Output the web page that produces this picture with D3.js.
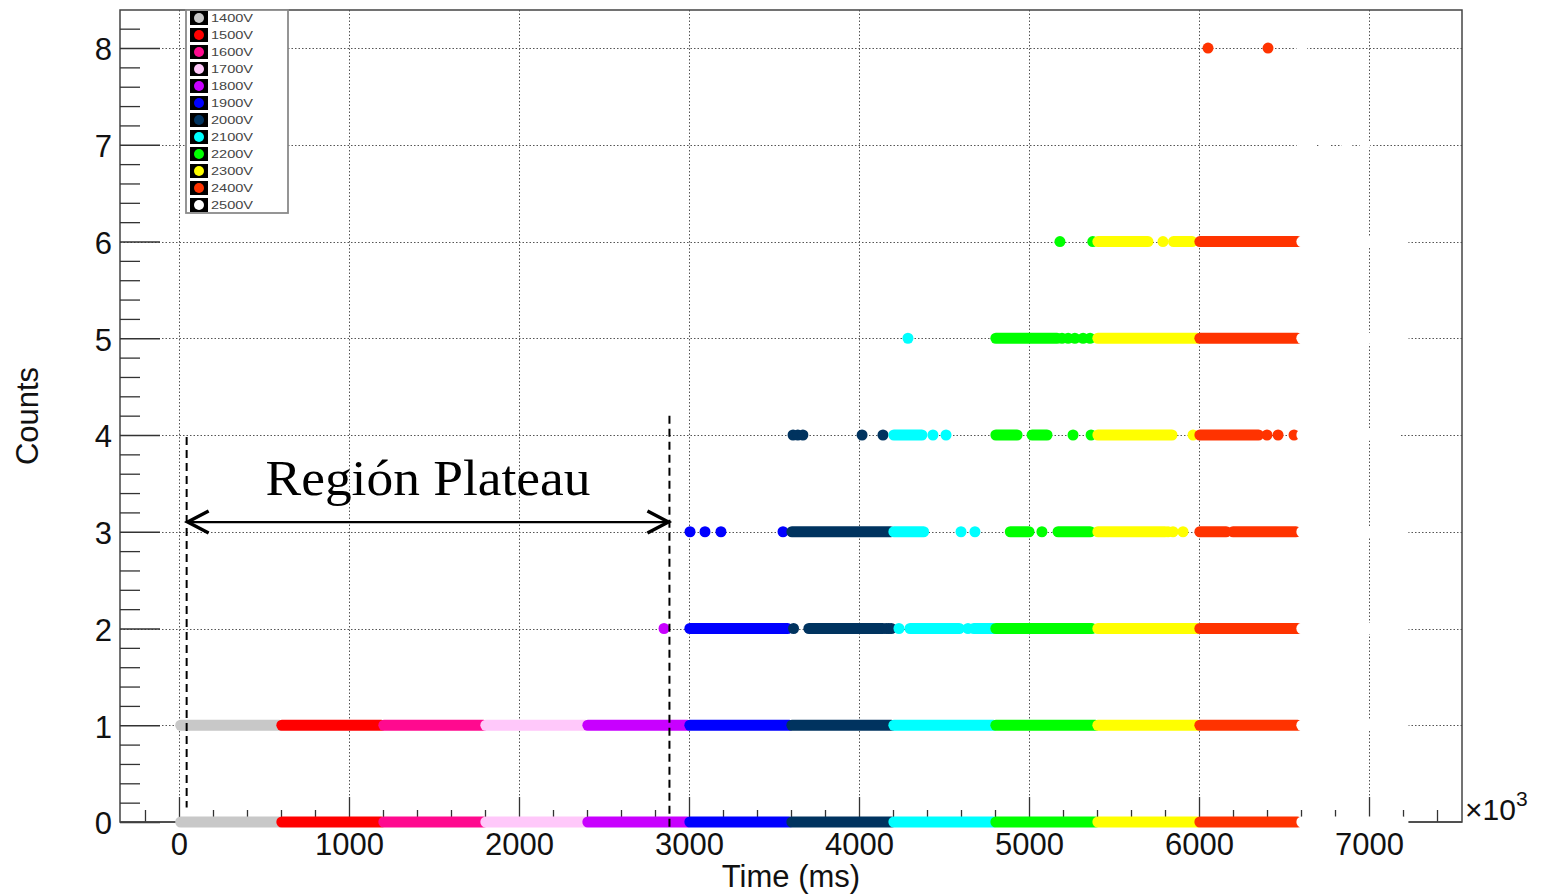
<!DOCTYPE html>
<html><head><meta charset="utf-8">
<script src="https://cdn.jsdelivr.net/npm/d3@7"></script>
<style>html,body{margin:0;padding:0;background:#fff;} svg{display:block;}</style>
</head><body>
<svg id="chart" width="1542" height="896"></svg>
<script>
// ---------------- data ----------------
const voltages = ['1400V','1500V','1600V','1700V','1800V','1900V','2000V','2100V','2200V','2300V','2400V','2500V'];
const seriesColors = ['#c8c8c8','#ff0000','#ff0a8f','#ffc8fa','#c800ff','#0000ff','#00335f','#00ffff','#00ff00','#ffff00','#ff3300','#ffffff'];
const xTickLabels = [0,1000,2000,3000,4000,5000,6000,7000];
const yTickLabels = [0,1,2,3,4,5,6,7,8];
// dense runs of overlapping markers: [seriesIndex, counts, tStart, tEnd]  (time in ms x10^3)
const denseRuns = [
  [0,0,10,590],[1,0,605,1190],[2,0,1205,1790],[3,0,1805,2390],[4,0,2405,2990],[5,0,3005,3590],
  [6,0,3605,4190],[7,0,4205,4790],[8,0,4805,5390],[9,0,5405,5990],[10,0,6005,6580],[11,0,6605,7200],
  [0,1,10,590],[1,1,605,1190],[2,1,1205,1790],[3,1,1805,2390],[4,1,2405,2990],[5,1,3005,3590],
  [6,1,3605,4190],[7,1,4205,4790],[8,1,4805,5390],[9,1,5405,5990],[10,1,6005,6580],[11,1,6605,7200],
  [5,2,3005,3580],[6,2,3705,4140],[7,2,4300,4590],[7,2,4675,4790],[8,2,4805,5370],[9,2,5405,5990],[10,2,6005,6580],[11,2,6605,7200],
  [6,3,3605,4185],[7,3,4205,4380],[8,3,4890,5000],[8,3,5171,5360],[9,3,5405,5800],[10,3,6005,6160],[10,3,6200,6570],[11,3,6605,7200],
  [7,4,4205,4370],[8,4,4805,4930],[8,4,5018,5106],[9,4,5405,5841],[10,4,6005,6350],[11,4,6605,7150],
  [8,5,4805,5165],[9,5,5405,5990],[10,5,6005,6580],[11,5,6605,7200],
  [9,6,5405,5700],[9,6,5850,5960],[10,6,6005,6580],[11,6,6605,7200]
];
// isolated markers: [seriesIndex, counts, t]
const singlePoints = [
  [4,2,2853],[6,2,3615],[6,2,4160],[6,2,4175],[6,2,4190],[7,2,4235],[7,2,4641],
  [5,3,3006],[5,3,3094],[5,3,3188],[5,3,3553],[7,3,4600],[7,3,4682],[8,3,5076],[9,3,5818],[9,3,5847],[9,3,5906],
  [6,4,3612],[6,4,3640],[6,4,3670],[6,4,4018],[6,4,4141],[7,4,4435],[7,4,4512],[8,4,5259],[8,4,5365],[9,4,5965],
  [10,4,6400],[10,4,6465],[10,4,6559],
  [7,5,4288],[8,5,5194],[8,5,5230],[8,5,5270],[8,5,5318],[8,5,5359],
  [8,6,5182],[8,6,5375],[9,6,5788],
  [11,7,6606],[11,7,6653],[11,7,6735],[11,7,6870],[11,7,6976],
  [10,8,6053],[10,8,6406],[11,8,6605]
];
const plateauBounds = [45, 2885];
const plateauLabel = 'Región Plateau';

// ---------------- chart ----------------
const svg = d3.select('#chart');
const x = d3.scaleLinear().domain([-347, 7547]).range([120, 1462]);
const y = d3.scaleLinear().domain([0, 8.393]).range([822, 10]);
const sans = 'Liberation Sans, Arial, Helvetica, sans-serif';

// grid
const grid = svg.append('g').attr('stroke', '#555').attr('stroke-width', 1).attr('stroke-dasharray', '1.5,2');
grid.selectAll('line.v').data(xTickLabels).join('line')
  .attr('x1', d => Math.round(x(d)) + 0.5).attr('x2', d => Math.round(x(d)) + 0.5)
  .attr('y1', y.range()[1]).attr('y2', y.range()[0]);
grid.selectAll('line.h').data(yTickLabels.filter(d => d > 0)).join('line')
  .attr('y1', d => Math.round(y(d)) + 0.5).attr('y2', d => Math.round(y(d)) + 0.5)
  .attr('x1', x.range()[0]).attr('x2', x.range()[1]);

// frame
svg.append('rect').attr('x', 120).attr('y', 10).attr('width', 1342).attr('height', 812)
  .attr('fill', 'none').attr('stroke', '#444').attr('stroke-width', 1.5);

// axes
const xMinor = d3.range(-200, 7547, 200).filter(d => d % 1000 !== 0);
const yMinor = d3.range(0.2, 8.3, 0.2).filter(d => Math.abs(d - Math.round(d)) > 1e-6);
function styleAxis(g){
  g.select('.domain').remove();
  g.selectAll('.tick line').attr('stroke', '#333').attr('stroke-width', 1.3);
  g.selectAll('text').attr('font-family', sans).attr('fill', '#111');
}
svg.append('g').attr('transform', 'translate(0,822)')
  .call(d3.axisBottom(x).tickValues(xMinor).tickSize(-12).tickFormat('')).call(styleAxis);
svg.append('g').attr('transform', 'translate(0,822)')
  .call(d3.axisBottom(x).tickValues(xTickLabels).tickSize(-25).tickPadding(11).tickFormat(d3.format('d')))
  .call(styleAxis).selectAll('text').attr('font-size', 31);
svg.append('g').attr('transform', 'translate(120,0)')
  .call(d3.axisLeft(y).tickValues(yMinor).tickSize(-20).tickFormat('')).call(styleAxis);
svg.append('g').attr('transform', 'translate(120,0)')
  .call(d3.axisLeft(y).tickValues(yTickLabels).tickSize(-40).tickPadding(8).tickFormat(d3.format('d')))
  .call(styleAxis).selectAll('text').attr('font-size', 31).attr('dy', '0.38em');
svg.append('line').attr('x1', 120).attr('x2', 1462).attr('y1', 822).attr('y2', 822)
  .attr('stroke', '#444').attr('stroke-width', 1.5);

// axis titles
svg.append('text').attr('x', 791).attr('y', 887).attr('text-anchor', 'middle')
  .attr('font-family', sans).attr('font-size', 31).attr('fill', '#111').text('Time (ms)');
svg.append('text').attr('transform', 'translate(38,416) rotate(-90)').attr('text-anchor', 'middle')
  .attr('font-family', sans).attr('font-size', 31).attr('fill', '#111').text('Counts');
const exp = svg.append('text').attr('x', 1465).attr('y', 820)
  .attr('font-family', sans).attr('font-size', 30).attr('fill', '#111');
exp.append('tspan').text('\u00d710');
exp.append('tspan').attr('font-size', 21).attr('dy', -14).text('3');

// markers, drawn series by series
const R = 5.5;
const marks = svg.append('g');
voltages.forEach((v, i) => {
  const g = marks.append('g');
  g.selectAll('line').data(denseRuns.filter(r => r[0] === i)).join('line')
    .attr('x1', d => x(d[2])).attr('x2', d => x(d[3]))
    .attr('y1', d => y(d[1])).attr('y2', d => y(d[1]))
    .attr('stroke', seriesColors[i]).attr('stroke-width', 2 * R).attr('stroke-linecap', 'round');
  g.selectAll('circle').data(singlePoints.filter(p => p[0] === i)).join('circle')
    .attr('cx', d => x(d[2])).attr('cy', d => y(d[1])).attr('r', R)
    .attr('fill', seriesColors[i]);
});

// legend
const lg = svg.append('g');
lg.append('rect').attr('x', 186).attr('y', 10).attr('width', 102).attr('height', 203)
  .attr('fill', '#fff').attr('stroke', '#8a8a8a').attr('stroke-width', 1.8);
voltages.forEach((v, i) => {
  const yc = 18 + 17 * i;
  lg.append('rect').attr('x', 190).attr('y', yc - 7).attr('width', 18).attr('height', 14).attr('fill', '#000');
  lg.append('circle').attr('cx', 199).attr('cy', yc).attr('r', 5).attr('fill', seriesColors[i]);
  lg.append('text').attr('x', 211).attr('y', yc + 4).attr('font-family', sans).attr('font-size', 11.5)
    .attr('fill', '#444').attr('textLength', 42).attr('lengthAdjust', 'spacingAndGlyphs').text(v);
});

// plateau annotation
const ann = svg.append('g').attr('stroke', '#000').attr('fill', 'none');
ann.append('line').attr('x1', x(plateauBounds[0])).attr('x2', x(plateauBounds[0]))
  .attr('y1', y(3.98)).attr('y2', y(0.15)).attr('stroke-width', 2).attr('stroke-dasharray', '8,5');
ann.append('line').attr('x1', x(plateauBounds[1])).attr('x2', x(plateauBounds[1]))
  .attr('y1', y(4.2)).attr('y2', y(-0.08)).attr('stroke-width', 2).attr('stroke-dasharray', '8,5');
const ay = y(3.1), ax0 = x(plateauBounds[0]), ax1 = x(plateauBounds[1]);
ann.append('line').attr('x1', ax0 + 2).attr('x2', ax1 - 2).attr('y1', ay).attr('y2', ay).attr('stroke-width', 2.4);
ann.append('path').attr('d', `M${ax0 + 22},${ay - 11} L${ax0 + 1},${ay} L${ax0 + 22},${ay + 11}`)
  .attr('stroke-width', 3.4).attr('stroke-linejoin', 'miter');
ann.append('path').attr('d', `M${ax1 - 22},${ay - 11} L${ax1 - 1},${ay} L${ax1 - 22},${ay + 11}`)
  .attr('stroke-width', 3.4).attr('stroke-linejoin', 'miter');
svg.append('text').attr('x', (ax0 + ax1) / 2).attr('y', y(3.375)).attr('text-anchor', 'middle')
  .attr('font-family', 'Liberation Serif, Times New Roman, serif').attr('font-size', 51)
  .attr('textLength', 325).attr('lengthAdjust', 'spacingAndGlyphs').attr('fill', '#000').text(plateauLabel);
</script>
</body></html>
